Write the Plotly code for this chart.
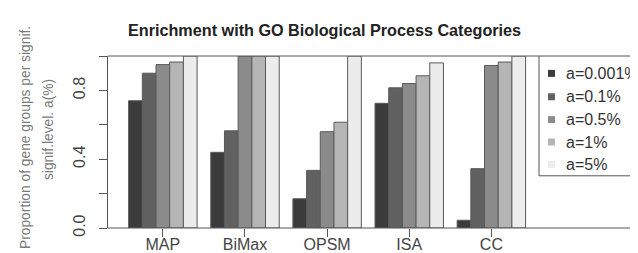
import plotly.graph_objects as go

categories = ["MAP", "BiMax", "OPSM", "ISA", "CC"]
levels = ["a=0.001%", "a=0.1%", "a=0.5%", "a=1%", "a=5%"]
a_0001 = [0.74, 0.44, 0.17, 0.725, 0.045]
a_01 = [0.90, 0.565, 0.335, 0.815, 0.345]
a_05 = [0.95, 1.0, 0.56, 0.84, 0.945]
a_1 = [0.965, 1.0, 0.615, 0.885, 0.965]
a_5 = [1.0, 1.0, 1.0, 0.96, 1.0]
series = [a_0001, a_01, a_05, a_1, a_5]
y_tickvals = [0.0, 0.2, 0.4, 0.6, 0.8, 1.0]
y_ticktext = ["0.0", "", "0.4", "", "0.8", ""]

colors = ["#3b3b3b", "#616161", "#8b8b8b", "#b5b5b5", "#ececec"]
FONT = "Liberation Sans, Arial, sans-serif"
AX = "#555555"

W, H = 638, 253
L, R, T, B = 100, 531, 47.5, 220.5
pw, ph = R - L, B - T

def px(x):
    return (x - L) / pw

def py(y):
    return (B - y) / ph

fig = go.Figure()
for name, vals, c in zip(levels, series, colors):
    fig.add_trace(go.Bar(x=categories, y=vals, name=name,
                         marker=dict(color=c, line=dict(color="#5a5a5a", width=1)),
                         showlegend=False))

shapes = []
shapes.append(dict(type="line", xref="paper", yref="paper", x0=0, x1=1, y0=1, y1=1,
                   line=dict(color=AX, width=1)))
shapes.append(dict(type="line", xref="paper", yref="paper", x0=0, x1=px(640), y0=0, y1=0,
                   line=dict(color=AX, width=1)))
shapes.append(dict(type="rect", xref="paper", yref="paper", x0=1.0, x1=px(700),
                   y0=py(168), y1=1.0, line=dict(color=AX, width=1), fillcolor="white"))
annotations = []
ycs = [65, 88.5, 111.5, 134, 156.5]
for name, c, yc in zip(levels, colors, ycs):
    shapes.append(dict(type="rect", xref="paper", yref="paper",
                       x0=px(540), x1=px(547), y0=py(yc + 3.5), y1=py(yc - 3.5),
                       line=dict(width=0), fillcolor=c))
    annotations.append(dict(text=name, xref="paper", yref="paper", x=px(556), y=py(yc),
                            xanchor="left", yanchor="middle", showarrow=False,
                            font=dict(family=FONT, size=16, color="#333333")))

annotations.append(dict(text="Proportion of gene groups per signif.", xref="paper", yref="paper",
                        x=px(17), y=py(130), textangle=-90, showarrow=False,
                        xanchor="center", yanchor="middle",
                        font=dict(family=FONT, size=13.8, color="#7a7a7a")))
annotations.append(dict(text="signif.level. a(%)", xref="paper", yref="paper",
                        x=px(40), y=py(122), textangle=-90, showarrow=False,
                        xanchor="center", yanchor="middle",
                        font=dict(family=FONT, size=13.8, color="#7a7a7a")))
annotations.append(dict(text="<b>Enrichment with GO Biological Process Categories</b>",
                        xref="paper", yref="paper", x=px(316), y=py(21), showarrow=False,
                        xanchor="center", yanchor="middle",
                        font=dict(family=FONT, size=16.2, color="#222222")))

fig.update_layout(
    width=W, height=H,
    margin=dict(l=L, r=W - R, t=T, b=H - B, autoexpand=False),
    paper_bgcolor="white", plot_bgcolor="white",
    barmode="group", bargap=1/6, bargroupgap=0,
    shapes=shapes, annotations=annotations,
    showlegend=False,
    xaxis=dict(range=[-0.668, 4.58], showgrid=False, zeroline=False, showline=False,
               ticks="outside", ticklen=8, tickcolor=AX, tickwidth=1,
               ticklabelstandoff=-6,
               tickfont=dict(family=FONT, size=16, color="#444444")),
    yaxis=dict(range=[0, 1], showgrid=False, zeroline=False, showline=True,
               linecolor=AX, linewidth=1, tickvals=y_tickvals, ticktext=y_ticktext,
               ticks="outside", ticklen=8, tickcolor=AX, tickwidth=1, tickangle=-90,
               ticklabelstandoff=8,
               tickfont=dict(family=FONT, size=16, color="#444444")),
)

fig.write_html("out.html")
